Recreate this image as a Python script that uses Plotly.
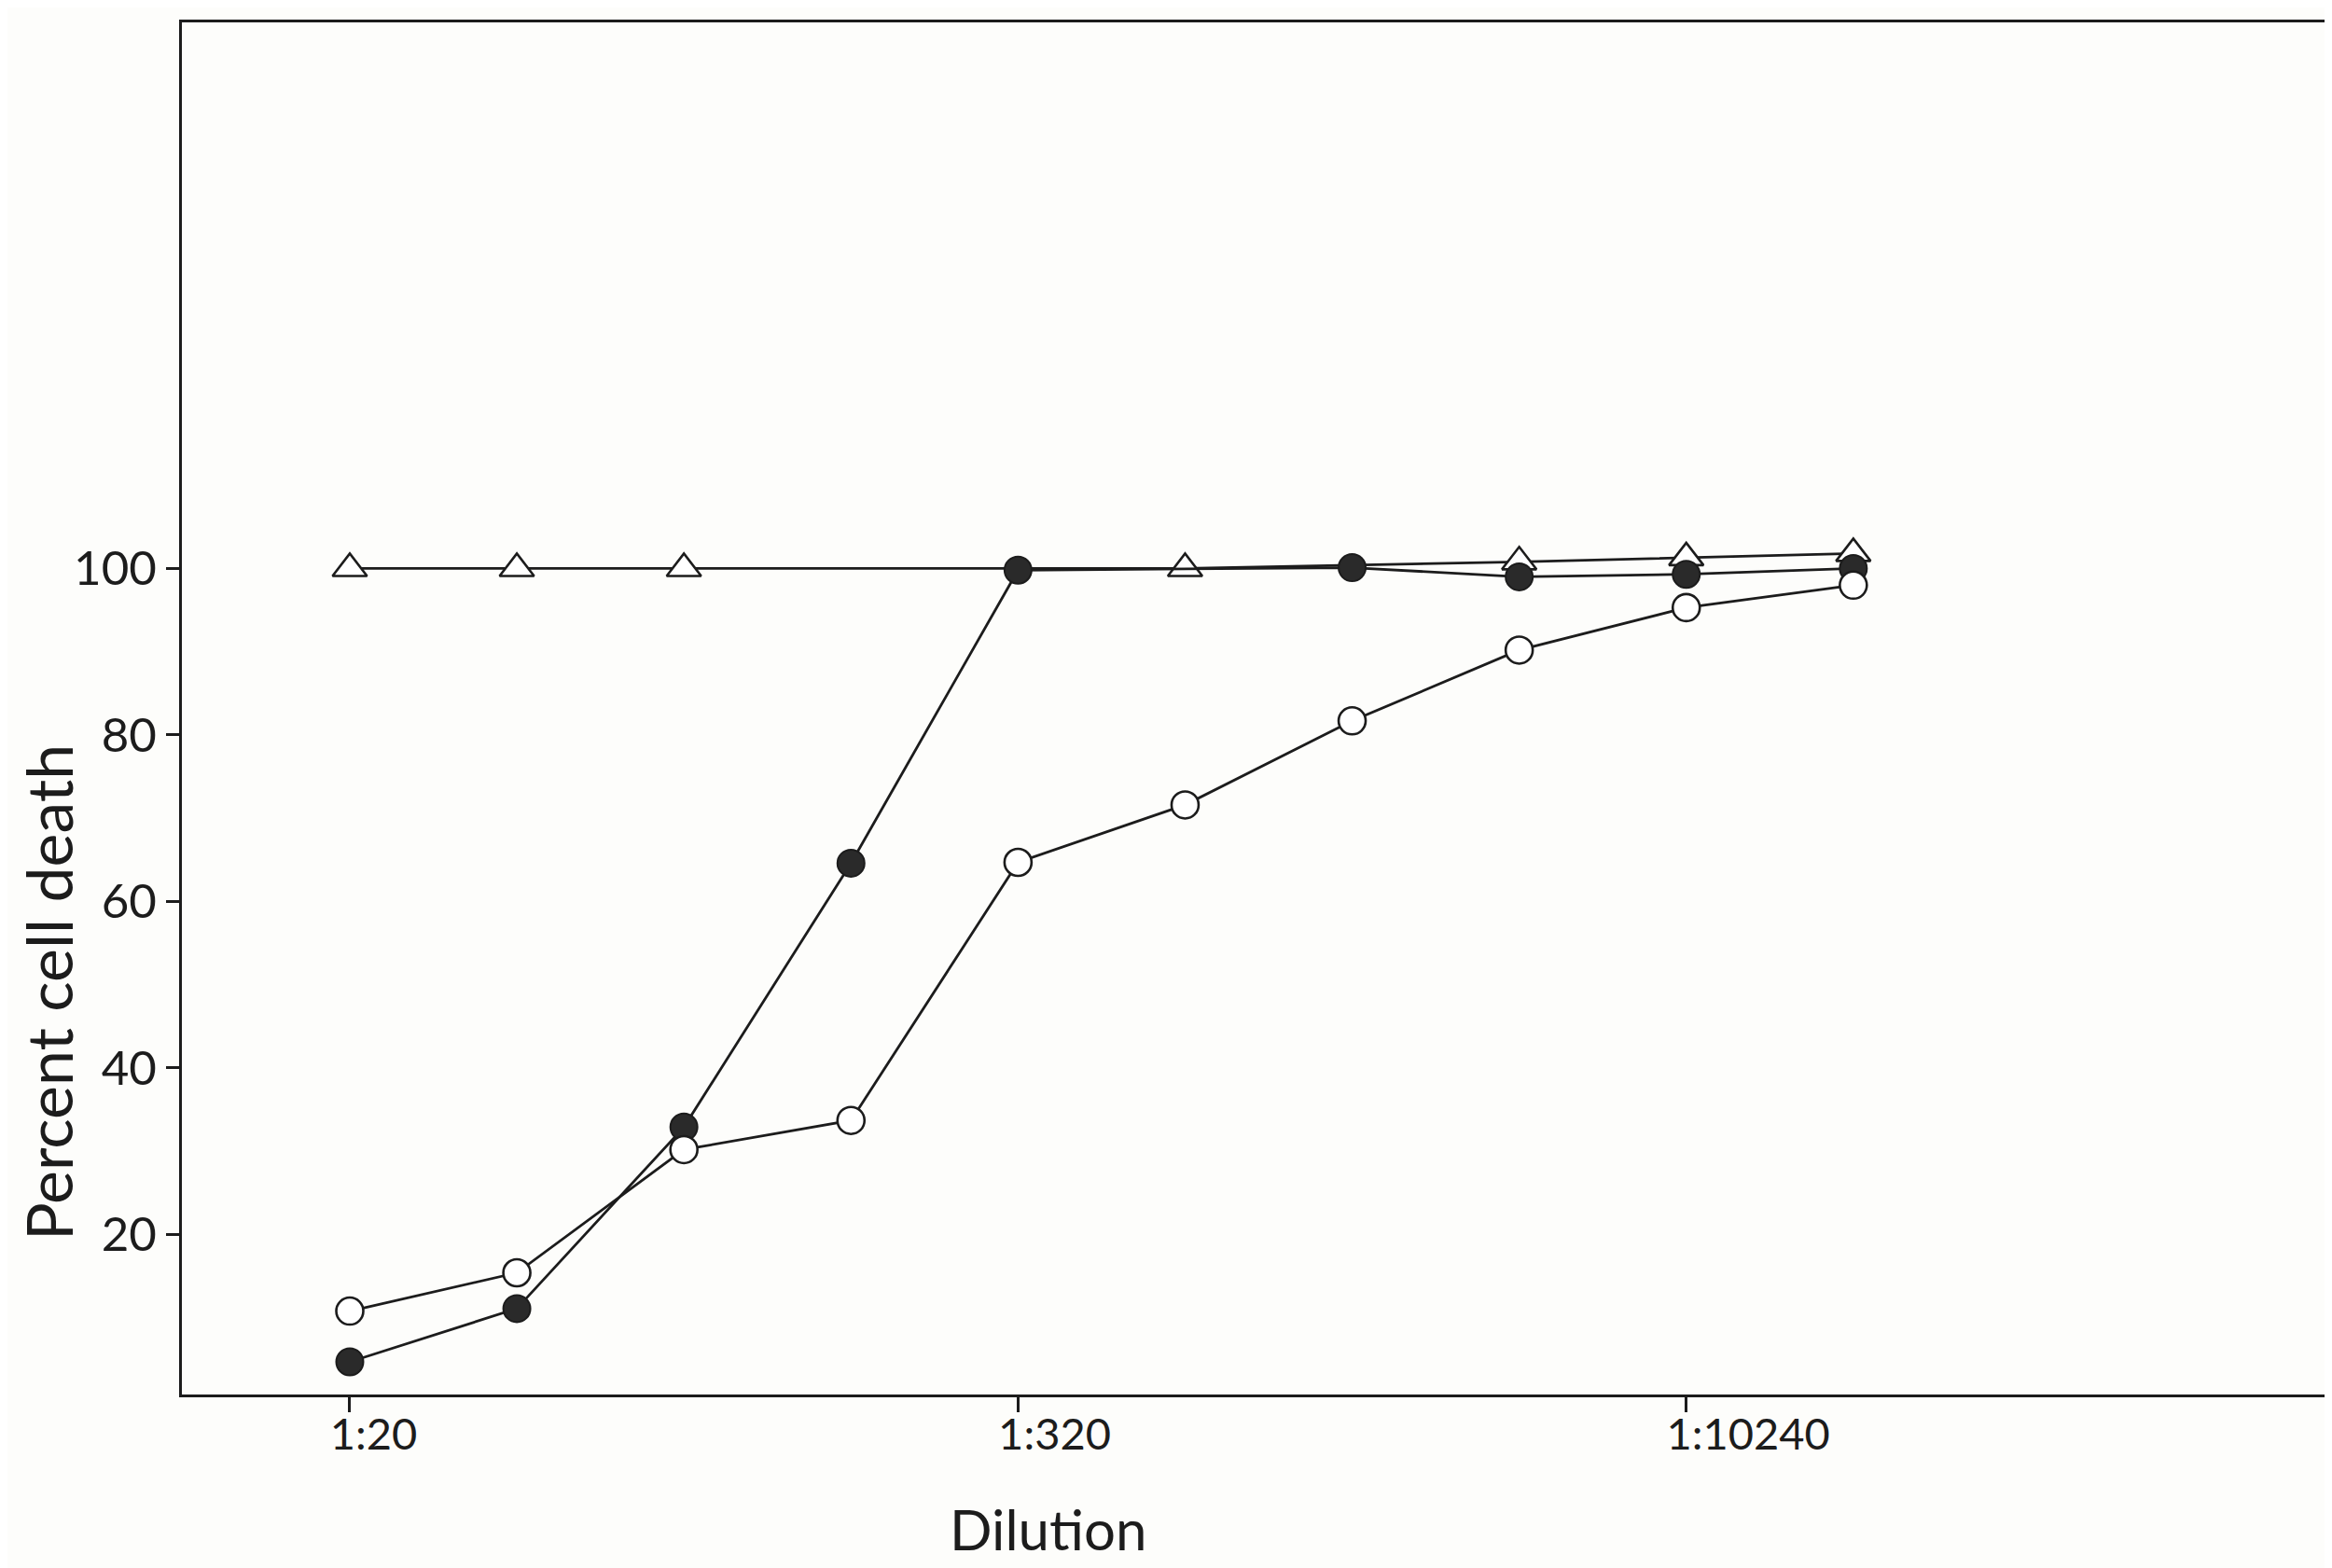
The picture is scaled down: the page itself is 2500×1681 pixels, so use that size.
import plotly.graph_objects as go

# Dilution steps (two-fold series, index along the x axis)
tick_steps = [0, 4, 8]
tick_labels = ["1:20", "1:320", "1:10240"]
y_ticks = [20, 40, 60, 80, 100]

# Open circles
open_x = [0, 1, 2, 3, 4, 5, 6, 7, 8, 9]
open_y = [10.8, 15.4, 30.2, 33.7, 64.7, 71.6, 81.7, 90.2, 95.3, 98.0]

# Filled circles
filled_x = [0, 1, 2, 3, 4, 6, 7, 8, 9]
filled_y = [4.7, 11.1, 32.9, 64.6, 99.8, 100.1, 99.0, 99.3, 100.0]

# Open triangles
tri_x = [0, 1, 2, 5, 7, 8, 9]
tri_y = [100.0, 100.0, 100.0, 100.0, 100.8, 101.3, 101.8]

INK = "#1c1c1c"
BG = "#fdfdfb"

fig = go.Figure()
fig.add_trace(go.Scatter(
    x=tri_x, y=tri_y, mode="lines+markers",
    line=dict(color=INK, width=2.8),
    marker=dict(symbol="triangle-up", size=32, color="white",
                line=dict(color=INK, width=2.6)),
))
fig.add_trace(go.Scatter(
    x=filled_x, y=filled_y, mode="lines+markers",
    line=dict(color=INK, width=2.8),
    marker=dict(symbol="circle", size=29, color="#2a2a2a",
                line=dict(color=INK, width=2)),
))
fig.add_trace(go.Scatter(
    x=open_x, y=open_y, mode="lines+markers",
    line=dict(color=INK, width=2.8),
    marker=dict(symbol="circle", size=29, color="white",
                line=dict(color=INK, width=2.6)),
))

fig.update_layout(
    width=2500, height=1681,
    margin=dict(l=187, r=0, t=16, b=194),
    paper_bgcolor=BG, plot_bgcolor=BG,
    showlegend=False,
    font=dict(family="Lato", color=INK),
    xaxis=dict(
        range=[-1.005, 11.91],
        tickvals=tick_steps, ticktext=tick_labels,
        ticks="outside", ticklen=16, tickwidth=2.5, tickcolor=INK,
        ticklabelposition="outside right", ticklabelshift=-24,
        showline=True, linewidth=3, linecolor=INK, mirror=True,
        showgrid=False, zeroline=False,
        tickfont=dict(size=47, family="Lato", color=INK),
    ),
    yaxis=dict(
        range=[0.78, 165.6],
        tickvals=y_ticks,
        ticks="outside", ticklen=14, tickwidth=2.5, tickcolor=INK,
        showline=True, linewidth=3, linecolor=INK,
        showgrid=False, zeroline=False,
        tickfont=dict(size=51, family="Lato", color=INK),
    ),
    annotations=[
        dict(text="Dilution", xref="paper", yref="paper",
             x=0.4016, y=-0.124, xanchor="center", yanchor="bottom",
             showarrow=False, font=dict(size=60, family="Lato", color=INK)),
        dict(text="Percent cell death", xref="paper", yref="paper",
             x=-0.0618, y=0.293, xanchor="center", yanchor="middle",
             textangle=-90, showarrow=False,
             font=dict(size=68, family="Lato", color=INK)),
    ],
)

fig.write_html("out.html")
